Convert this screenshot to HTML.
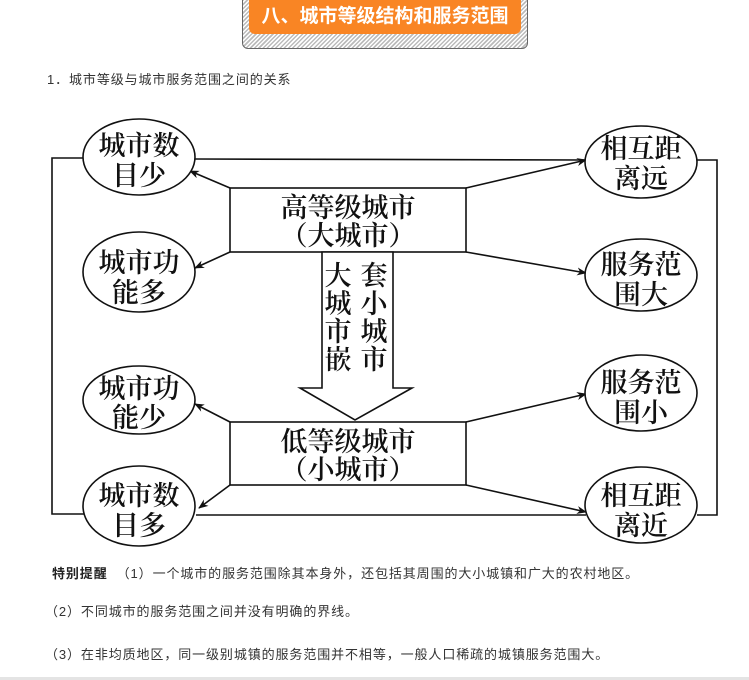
<!DOCTYPE html>
<html><head><meta charset="utf-8"><style>
body{margin:0;width:749px;height:680px;background:#fff;position:relative;overflow:hidden;font-family:"Liberation Sans","Noto Sans CJK SC",sans-serif;}
.t{position:absolute;font-size:13px;color:#333;white-space:nowrap;letter-spacing:0.9px;}
</style></head><body>
<div style="position:absolute;left:242px;top:-6px;width:284px;height:53px;border:1px solid #666;border-radius:6px;background:repeating-linear-gradient(135deg,#bbb 0 1.5px,#fff 1.5px 3px);"></div>
<div style="position:absolute;left:249px;top:0;width:272px;height:34px;background:#f98524;border-radius:0 0 6px 6px;color:#fff;font-weight:bold;font-size:19px;line-height:34px;text-align:center;">八、城市等级结构和服务范围</div>
<div class="t" style="left:47px;top:69px;">1．城市等级与城市服务范围之间的关系</div>
<svg width="749" height="680" style="position:absolute;left:0;top:0" font-family="Liberation Serif,Noto Serif CJK SC,serif">
<defs><marker id="a" markerWidth="10" markerHeight="8" refX="9" refY="4" orient="auto" markerUnits="userSpaceOnUse"><path d="M0,0 L10,4 L0,8 L3,4 Z" fill="#111"/></marker></defs>
<g stroke="#111" stroke-width="1.6" fill="none">
<polyline points="83,158 52,158 52,514 84,514"/>
<line x1="195" y1="159" x2="586" y2="160"/>
<line x1="196" y1="515" x2="586" y2="515"/>
<polyline points="697,160 717,160 717,515 697,515"/>
<rect x="230" y="188" width="236" height="64"/>
<rect x="230" y="422" width="236" height="63"/>
<polygon points="322,252 393,252 393,388 412,388 355,420 300,388 322,388" fill="#fff"/>
<line x1="230" y1="188" x2="190" y2="171" marker-end="url(#a)"/>
<line x1="230" y1="252" x2="195" y2="268" marker-end="url(#a)"/>
<line x1="230" y1="422" x2="195" y2="404" marker-end="url(#a)"/>
<line x1="230" y1="485" x2="199" y2="508" marker-end="url(#a)"/>
<line x1="466" y1="188" x2="586" y2="160" marker-end="url(#a)"/>
<line x1="466" y1="252" x2="586" y2="273" marker-end="url(#a)"/>
<line x1="466" y1="422" x2="586" y2="394" marker-end="url(#a)"/>
<line x1="466" y1="485" x2="586" y2="512" marker-end="url(#a)"/>
<ellipse cx="139" cy="157" rx="56" ry="38" fill="#fff"/>
<ellipse cx="139" cy="272" rx="56" ry="40" fill="#fff"/>
<ellipse cx="139" cy="400" rx="56" ry="34" fill="#fff"/>
<ellipse cx="139" cy="506" rx="56" ry="40" fill="#fff"/>
<ellipse cx="641" cy="162" rx="56" ry="36" fill="#fff"/>
<ellipse cx="641" cy="275" rx="56" ry="36" fill="#fff"/>
<ellipse cx="641" cy="393" rx="56" ry="38" fill="#fff"/>
<ellipse cx="641" cy="505" rx="56" ry="38" fill="#fff"/>
</g>
<g font-size="27" fill="#111" text-anchor="middle" font-weight="600">
<text x="139" y="155">城市数</text><text x="139" y="185">目少</text>
<text x="139" y="272">城市功</text><text x="139" y="302">能多</text>
<text x="139" y="398">城市功</text><text x="139" y="427">能少</text>
<text x="139" y="505">城市数</text><text x="139" y="535">目多</text>
<text x="641" y="158">相互距</text><text x="641" y="188">离远</text>
<text x="641" y="274">服务范</text><text x="641" y="304">围大</text>
<text x="641" y="392">服务范</text><text x="641" y="422">围小</text>
<text x="641" y="505">相互距</text><text x="641" y="535">离近</text>
<text x="348" y="217">高等级城市</text><text x="348" y="245">（大城市）</text>
<text x="348" y="451">低等级城市</text><text x="348" y="479">（小城市）</text>
<text x="338" y="285">大</text><text x="338" y="313">城</text><text x="338" y="341">市</text><text x="338" y="369">嵌</text>
<text x="374" y="285">套</text><text x="374" y="313">小</text><text x="374" y="341">城</text><text x="374" y="369">市</text>
</g>
</svg>
<div class="t" style="left:52px;top:563px;"><b style="color:#222">特别提醒</b>&nbsp;&nbsp;（1）一个城市的服务范围除其本身外，还包括其周围的大小城镇和广大的农村地区。</div>
<div class="t" style="left:45px;top:601px;">（2）不同城市的服务范围之间并没有明确的界线。</div>
<div class="t" style="left:45px;top:644px;">（3）在非均质地区，同一级别城镇的服务范围并不相等，一般人口稀疏的城镇服务范围大。</div>
<div style="position:absolute;left:0;top:677px;width:749px;height:3px;background:#e4e4e4;"></div>
</body></html>
